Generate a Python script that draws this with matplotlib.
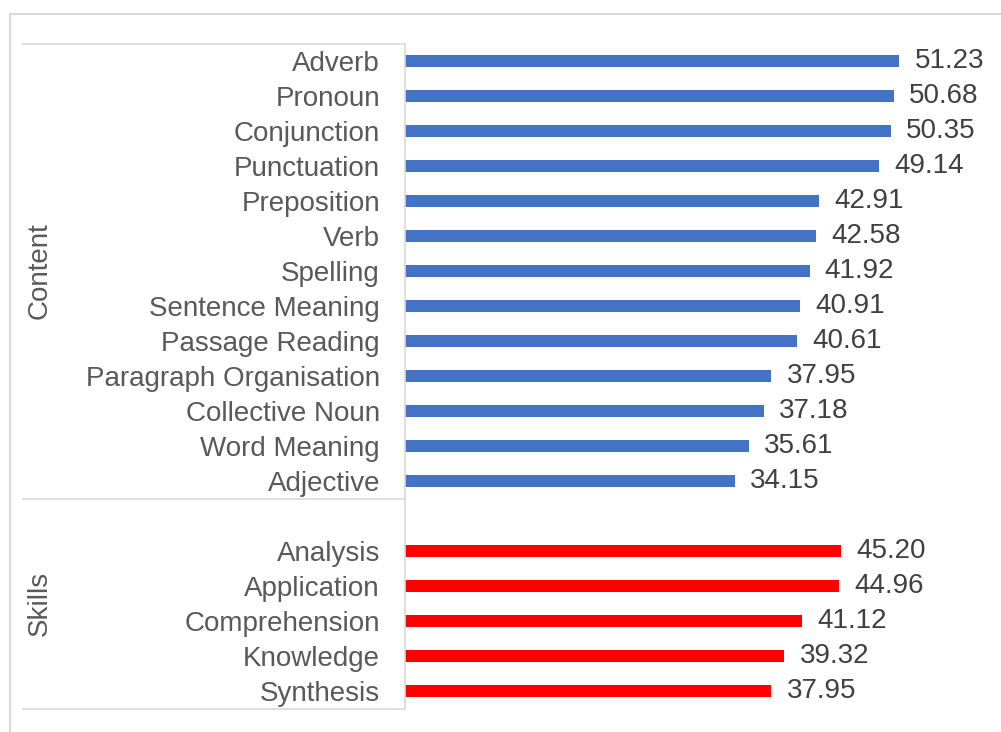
import matplotlib.pyplot as plt
from matplotlib.patches import Rectangle

# dados
conteudo = ["Adverb", "Pronoun", "Conjunction", "Punctuation", "Preposition", "Verb",
            "Spelling", "Sentence Meaning", "Passage Reading", "Paragraph Organisation",
            "Collective Noun", "Word Meaning", "Adjective"]
valores_conteudo = [51.23, 50.68, 50.35, 49.14, 42.91, 42.58, 41.92, 40.91, 40.61,
                    37.95, 37.18, 35.61, 34.15]
habilidades = ["Analysis", "Application", "Comprehension", "Knowledge", "Synthesis"]
valores_habilidades = [45.20, 44.96, 41.12, 39.32, 37.95]

plt.rcParams['font.family'] = ['Liberation Sans', 'DejaVu Sans']
fs = 20

fig = plt.figure(figsize=(10.01, 7.32), dpi=100)
ax = fig.add_axes([405 / 1001, 1 - 708.5 / 732, (984 - 405) / 1001, 665 / 732])

# posições: grupo Content, uma linha vazia, grupo Skills
pos_conteudo = list(range(len(conteudo)))
pos_habilidades = [len(conteudo) + 1 + i for i in range(len(habilidades))]

b1 = ax.barh(pos_conteudo, valores_conteudo, height=0.35, color='#4472C4')
b2 = ax.barh(pos_habilidades, valores_habilidades, height=0.35, color='#FF0000')
ax.bar_label(b1, fmt='%.2f', padding=11, fontsize=fs, color='#404040')
ax.bar_label(b2, fmt='%.2f', padding=11, fontsize=fs, color='#404040')

ax.set_xlim(0, 60)
n = len(conteudo) + 1 + len(habilidades)
ax.set_ylim(n - 0.5, -0.5)
ax.set_yticks(pos_conteudo + pos_habilidades)
ax.set_yticklabels(conteudo + habilidades, fontsize=fs, color='#595959')
ax.tick_params(axis='y', length=0, pad=18)
ax.set_xticks([])

for s in ['top', 'right', 'bottom']:
    ax.spines[s].set_visible(False)
ax.spines['left'].set_color('#D9D9D9')
ax.spines['left'].set_linewidth(1.2)

# linhas dos grupos
trans = ax.get_yaxis_transform()
x0 = (23 - 405) / (984 - 405)
for yl in [-0.5, len(conteudo) - 0.5, n - 0.5]:
    ax.plot([x0, 0], [yl, yl], color='#D9D9D9', lw=1.2, transform=trans, clip_on=False)

xg = (40 - 405) / (984 - 405)
ax.text(xg, (len(conteudo) - 1) / 2, "Content", rotation=90, ha='center', va='center',
        fontsize=fs, color='#595959', transform=trans)
ax.text(xg, (len(conteudo) - 0.5 + n - 0.5) / 2, "Skills", rotation=90, ha='center',
        va='center', fontsize=fs, color='#595959', transform=trans)

# borda do gráfico
fig.patches.append(Rectangle((10 / 1001, -0.1), 1.1, 1 - 14 / 732 + 0.1,
                             transform=fig.transFigure, fill=False,
                             edgecolor='#D9D9D9', lw=1.5))

fig.savefig('out.png', dpi=100)
